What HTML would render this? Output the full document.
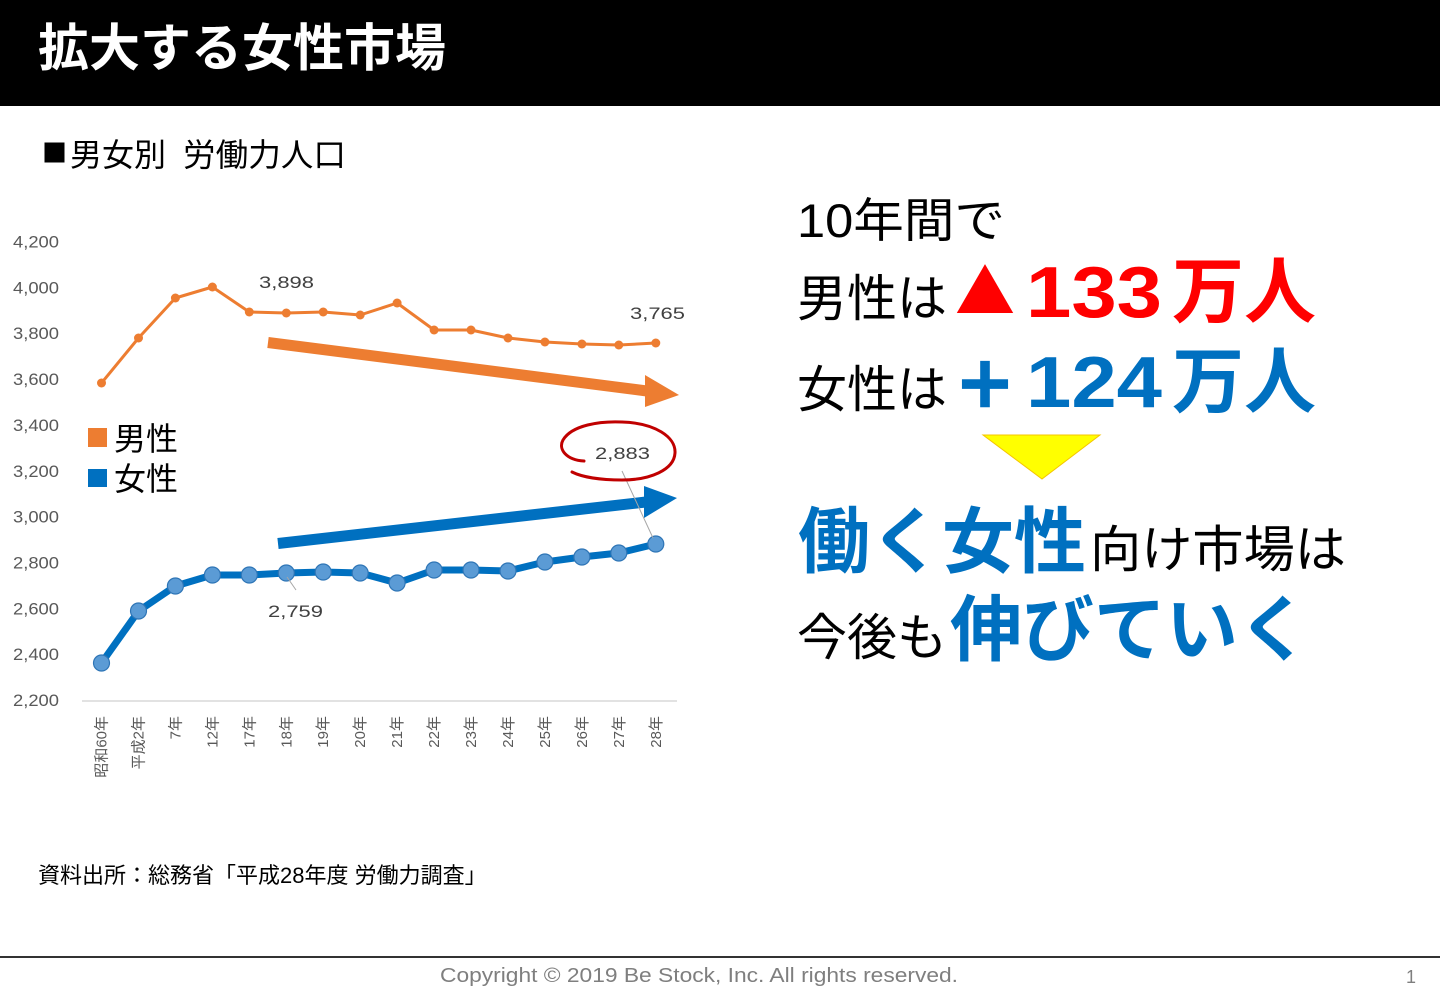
<!DOCTYPE html>
<html lang="ja">
<head>
<meta charset="utf-8">
<style>
  html,body{margin:0;padding:0;background:#fff;}
  body{width:1440px;height:997px;overflow:hidden;}
  svg{display:block;}
  .jp{font-family:"Liberation Sans","Noto Sans CJK JP",sans-serif;}
  .cjk{font-family:"Noto Sans CJK JP",sans-serif;}
  .ax{font-family:"Liberation Sans","Noto Sans CJK JP",sans-serif;font-size:17px;fill:#595959;}
  .xl{font-family:"Liberation Sans","Noto Sans CJK JP",sans-serif;font-size:15px;fill:#595959;}
  .dl{font-family:"Liberation Sans",sans-serif;font-size:17px;fill:#404040;}
</style>
</head>
<body>
<svg width="1440" height="997" viewBox="0 0 1440 997" xmlns="http://www.w3.org/2000/svg">
  <!-- header -->
  <rect x="0" y="0" width="1440" height="106" fill="#000"/>
  <text x="38" y="66" class="jp" font-size="51" font-weight="bold" fill="#fff">拡大する女性市場</text>

  <!-- subtitle -->
  <text x="42" y="162" class="cjk" font-size="25" fill="#000">■</text>
  <text x="70" y="166" class="jp" font-size="32" fill="#000">男女別</text>
  <text x="183" y="166" class="jp" font-size="32" fill="#000" textLength="163" lengthAdjust="spacingAndGlyphs">労働力人口</text>

  <!-- y axis labels -->
  <g class="ax" text-anchor="end">
    <text x="59" y="247.5" textLength="46" lengthAdjust="spacingAndGlyphs">4,200</text>
    <text x="59" y="293.3" textLength="46" lengthAdjust="spacingAndGlyphs">4,000</text>
    <text x="59" y="339.2" textLength="46" lengthAdjust="spacingAndGlyphs">3,800</text>
    <text x="59" y="385.0" textLength="46" lengthAdjust="spacingAndGlyphs">3,600</text>
    <text x="59" y="430.9" textLength="46" lengthAdjust="spacingAndGlyphs">3,400</text>
    <text x="59" y="476.8" textLength="46" lengthAdjust="spacingAndGlyphs">3,200</text>
    <text x="59" y="522.6" textLength="46" lengthAdjust="spacingAndGlyphs">3,000</text>
    <text x="59" y="568.5" textLength="46" lengthAdjust="spacingAndGlyphs">2,800</text>
    <text x="59" y="614.3" textLength="46" lengthAdjust="spacingAndGlyphs">2,600</text>
    <text x="59" y="660.2" textLength="46" lengthAdjust="spacingAndGlyphs">2,400</text>
    <text x="59" y="706.0" textLength="46" lengthAdjust="spacingAndGlyphs">2,200</text>
  </g>

  <!-- x axis line -->
  <line x1="82" y1="701" x2="677" y2="701" stroke="#D9D9D9" stroke-width="1.5"/>

  <!-- x labels (rotated) -->
  <g class="xl" text-anchor="end">
    <text transform="translate(106.5,716) rotate(-90)">昭和60年</text>
    <text transform="translate(143.5,716) rotate(-90)">平成2年</text>
    <text transform="translate(180.4,716) rotate(-90)">7年</text>
    <text transform="translate(217.4,716) rotate(-90)">12年</text>
    <text transform="translate(254.3,716) rotate(-90)">17年</text>
    <text transform="translate(291.3,716) rotate(-90)">18年</text>
    <text transform="translate(328.2,716) rotate(-90)">19年</text>
    <text transform="translate(365.2,716) rotate(-90)">20年</text>
    <text transform="translate(402.1,716) rotate(-90)">21年</text>
    <text transform="translate(439.1,716) rotate(-90)">22年</text>
    <text transform="translate(476,716) rotate(-90)">23年</text>
    <text transform="translate(513,716) rotate(-90)">24年</text>
    <text transform="translate(549.9,716) rotate(-90)">25年</text>
    <text transform="translate(586.9,716) rotate(-90)">26年</text>
    <text transform="translate(623.8,716) rotate(-90)">27年</text>
    <text transform="translate(660.8,716) rotate(-90)">28年</text>
  </g>

  <!-- trend arrows -->
  <line x1="268" y1="342.5" x2="647" y2="391" stroke="#ED7D31" stroke-width="11"/>
  <polygon points="645,375 679,395 645,407" fill="#ED7D31"/>
  <line x1="278" y1="543.5" x2="646" y2="502" stroke="#0070C0" stroke-width="11"/>
  <polygon points="644,486 677,498 644,518" fill="#0070C0"/>

  <!-- male series -->
  <polyline fill="none" stroke="#ED7D31" stroke-width="3" stroke-linejoin="round"
    points="101.5,383 138.5,338 175.4,298 212.4,287 249.3,312 286.3,313 323.2,312 360.2,315 397.1,303 434.1,330 471,330 508,338 544.9,342 581.9,344 618.8,345 655.8,343"/>
  <g fill="#ED7D31">
    <circle cx="101.5" cy="383" r="4.5"/><circle cx="138.5" cy="338" r="4.5"/>
    <circle cx="175.4" cy="298" r="4.5"/><circle cx="212.4" cy="287" r="4.5"/>
    <circle cx="249.3" cy="312" r="4.5"/><circle cx="286.3" cy="313" r="4.5"/>
    <circle cx="323.2" cy="312" r="4.5"/><circle cx="360.2" cy="315" r="4.5"/>
    <circle cx="397.1" cy="303" r="4.5"/><circle cx="434.1" cy="330" r="4.5"/>
    <circle cx="471" cy="330" r="4.5"/><circle cx="508" cy="338" r="4.5"/>
    <circle cx="544.9" cy="342" r="4.5"/><circle cx="581.9" cy="344" r="4.5"/>
    <circle cx="618.8" cy="345" r="4.5"/><circle cx="655.8" cy="343" r="4.5"/>
  </g>

  <!-- female series -->
  <polyline fill="none" stroke="#0070C0" stroke-width="7" stroke-linejoin="round"
    points="101.5,663 138.5,611 175.4,586 212.4,575 249.3,575 286.3,573 323.2,572 360.2,573 397.1,583 434.1,570 471,570 508,571 544.9,562 581.9,557 618.8,553 655.8,544"/>
  <g fill="#5B9BD5" stroke="#2E75B6" stroke-width="1.2">
    <circle cx="101.5" cy="663" r="8"/><circle cx="138.5" cy="611" r="8"/>
    <circle cx="175.4" cy="586" r="8"/><circle cx="212.4" cy="575" r="8"/>
    <circle cx="249.3" cy="575" r="8"/><circle cx="286.3" cy="573" r="8"/>
    <circle cx="323.2" cy="572" r="8"/><circle cx="360.2" cy="573" r="8"/>
    <circle cx="397.1" cy="583" r="8"/><circle cx="434.1" cy="570" r="8"/>
    <circle cx="471" cy="570" r="8"/><circle cx="508" cy="571" r="8"/>
    <circle cx="544.9" cy="562" r="8"/><circle cx="581.9" cy="557" r="8"/>
    <circle cx="618.8" cy="553" r="8"/><circle cx="655.8" cy="544" r="8"/>
  </g>

  <!-- leader lines -->
  <line x1="287" y1="577" x2="296" y2="590" stroke="#A6A6A6" stroke-width="1"/>
  <line x1="622" y1="471" x2="653" y2="538" stroke="#A6A6A6" stroke-width="1"/>

  <!-- data labels -->
  <text x="259" y="288" class="dl" textLength="55" lengthAdjust="spacingAndGlyphs">3,898</text>
  <text x="630" y="319" class="dl" textLength="55" lengthAdjust="spacingAndGlyphs">3,765</text>
  <text x="268" y="617" class="dl" textLength="55" lengthAdjust="spacingAndGlyphs">2,759</text>
  <text x="595" y="459" class="dl" textLength="55" lengthAdjust="spacingAndGlyphs">2,883</text>

  <!-- red hand-drawn circle -->
  <path d="M584,461 C566,460 558,449 563,440 C572,425 600,421 622,422 C655,423 676,437 675,453 C674,470 650,480 622,480 C600,480 582,477 572,472"
        fill="none" stroke="#C00000" stroke-width="3" stroke-linecap="round"/>

  <!-- legend -->
  <rect x="88" y="428" width="19" height="19" fill="#ED7D31"/>
  <text x="114" y="450" class="jp" font-size="32" fill="#000">男性</text>
  <rect x="88" y="469" width="19" height="18" fill="#0070C0"/>
  <text x="114" y="490" class="jp" font-size="32" fill="#000">女性</text>

  <!-- right side message -->
  <text x="797" y="237" class="jp" font-size="47" fill="#000" textLength="208" lengthAdjust="spacingAndGlyphs">10年間で</text>

  <text x="797" y="316" class="jp" font-size="50" fill="#000">男性は</text>
  <text x="955" y="314" class="cjk" font-size="60" fill="#FF0000">▲</text>
  <text x="1026" y="317" class="jp" font-size="72" font-weight="bold" fill="#FF0000" textLength="136" lengthAdjust="spacingAndGlyphs">133</text>
  <text x="1172" y="317" class="jp" font-size="72" font-weight="bold" fill="#FF0000">万人</text>

  <text x="797" y="407" class="jp" font-size="50" fill="#000">女性は</text>
  <text x="955" y="407" class="cjk" font-size="60" font-weight="bold" fill="#0070C0" stroke="#0070C0" stroke-width="3.5">＋</text>
  <text x="1026" y="407" class="jp" font-size="72" font-weight="bold" fill="#0070C0" textLength="136" lengthAdjust="spacingAndGlyphs">124</text>
  <text x="1172" y="407" class="jp" font-size="72" font-weight="bold" fill="#0070C0">万人</text>

  <polygon points="983,435 1100,435 1042,479" fill="#FFFF00" stroke="#F5C400" stroke-width="1"/>

  <text x="798" y="567" class="jp" font-size="72" font-weight="bold" fill="#0070C0">働く女性</text>
  <text x="1090" y="567" class="jp" font-size="50" fill="#000" textLength="256" lengthAdjust="spacingAndGlyphs">向け市場は</text>

  <text x="797" y="655" class="jp" font-size="50" fill="#000">今後も</text>
  <text x="950" y="655" class="jp" font-size="72" font-weight="bold" fill="#0070C0">伸びていく</text>

  <!-- source -->
  <text x="38" y="883" class="jp" font-size="22" fill="#000">資料出所：総務省「平成28年度 労働力調査」</text>

  <!-- footer -->
  <rect x="0" y="956" width="1440" height="2" fill="#333"/>
  <text x="440" y="982" font-family="Liberation Sans, sans-serif" font-size="20" fill="#7F7F7F" textLength="518" lengthAdjust="spacingAndGlyphs">Copyright © 2019 Be Stock, Inc. All rights reserved.</text>
  <text x="1406" y="983" font-family="Liberation Sans, sans-serif" font-size="18" fill="#7F7F7F">1</text>
</svg>
</body>
</html>
